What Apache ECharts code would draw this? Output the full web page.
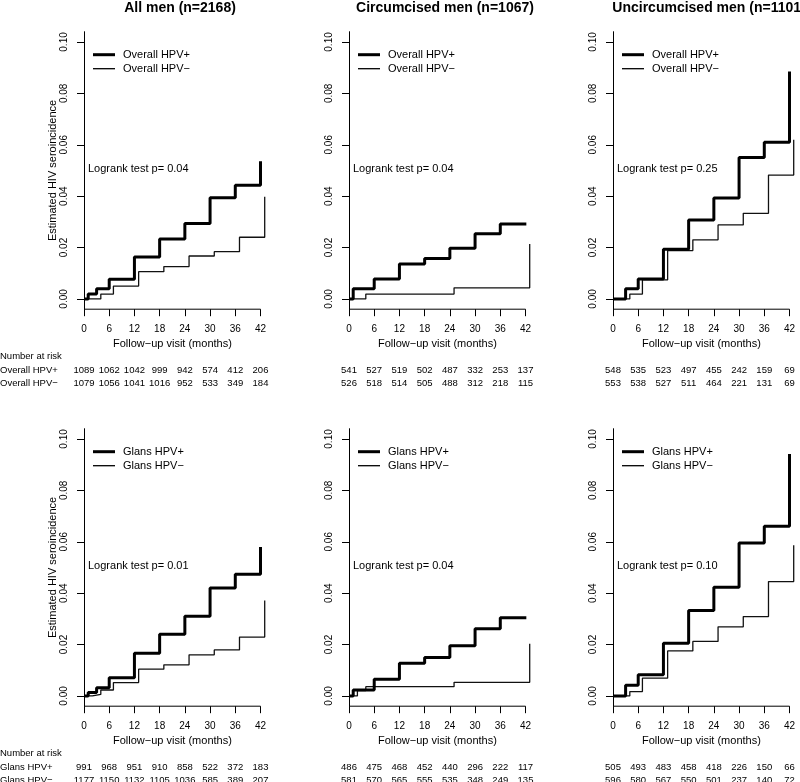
<!DOCTYPE html>
<html><head><meta charset="utf-8">
<script src="https://cdn.jsdelivr.net/npm/echarts@6/dist/echarts.min.js"></script>
<style>html,body{margin:0;padding:0;background:#fff}#c{width:800px;height:782px}</style>
</head><body><div id="c"></div>
<script>
// ---------- data ----------
const panelTitles = ["All men (n=2168)", "Circumcised men (n=1067)", "Uncircumcised men (n=1101)"];
const overallNames = ["Overall HPV+", "Overall HPV\u2212"];
const glansNames = ["Glans HPV+", "Glans HPV\u2212"];
const pValues = ["0.04", "0.04", "0.25", "0.01", "0.04", "0.10"];
const xTicks = [0, 6, 12, 18, 24, 30, 36, 42];
const yTicks = [0, 0.02, 0.04, 0.06, 0.08, 0.10];

// Panel A: all men, overall
const aPosT = [0, 1, 3, 6, 12, 18, 24, 30, 36, 42];
const aPosV = [0, 0.0019, 0.0040, 0.0077, 0.0163, 0.0233, 0.0294, 0.0394, 0.0442, 0.0536];
const aNegT = [0, 4, 7, 13, 19, 25, 31, 37, 43];
const aNegV = [0, 0.0019, 0.0050, 0.0106, 0.0126, 0.0167, 0.0184, 0.0240, 0.0398];
// Panel B: circumcised, overall
const bPosT = [0, 1, 6, 12, 18, 24, 30, 36, 42.2];
const bPosV = [0, 0.0040, 0.0078, 0.0136, 0.0157, 0.0197, 0.0254, 0.0292, 0.0292];
const bNegT = [0, 4, 25, 43];
const bNegV = [0, 0.0019, 0.0043, 0.0214];
// Panel C: uncircumcised, overall
const cPosT = [0, 3, 6, 12, 18, 24, 30, 36, 42];
const cPosV = [0, 0.0040, 0.0078, 0.0193, 0.0307, 0.0393, 0.0550, 0.0610, 0.0885];
const cNegT = [0, 4, 7, 13, 19, 25, 31, 37, 43];
const cNegV = [0, 0.0019, 0.0074, 0.0188, 0.0230, 0.0288, 0.0333, 0.0482, 0.0619];
// Panel D: all men, glans
const dPosT = [0, 1, 3, 6, 12, 18, 24, 30, 36, 42];
const dPosV = [0, 0.0013, 0.0032, 0.0071, 0.0166, 0.0240, 0.0310, 0.0420, 0.0474, 0.0580];
const dNegT = [0, 2, 4, 7, 13, 19, 25, 31, 37, 43];
const dNegV = [0, 0.0006, 0.0023, 0.0052, 0.0104, 0.0121, 0.0160, 0.0179, 0.0229, 0.0371];
// Panel E: circumcised, glans
const ePosT = [0, 1, 6, 12, 18, 24, 30, 36, 42.2];
const ePosV = [0, 0.0023, 0.0065, 0.0127, 0.0150, 0.0195, 0.0261, 0.0304, 0.0304];
const eNegT = [0, 2, 4, 25, 43];
const eNegV = [0, 0.0021, 0.0036, 0.0053, 0.0203];
// Panel F: uncircumcised, glans
const fPosT = [0, 3, 6, 12, 18, 24, 30, 36, 42];
const fPosV = [0, 0.0042, 0.0082, 0.0205, 0.0332, 0.0423, 0.0595, 0.0660, 0.0942];
const fNegT = [0, 4, 7, 13, 19, 25, 31, 37, 43];
const fNegV = [0, 0.0017, 0.0069, 0.0175, 0.0212, 0.0269, 0.0309, 0.0445, 0.0586];

// Numbers at risk
const aRiskPos = [1089, 1062, 1042, 999, 942, 574, 412, 206];
const aRiskNeg = [1079, 1056, 1041, 1016, 952, 533, 349, 184];
const bRiskPos = [541, 527, 519, 502, 487, 332, 253, 137];
const bRiskNeg = [526, 518, 514, 505, 488, 312, 218, 115];
const cRiskPos = [548, 535, 523, 497, 455, 242, 159, 69];
const cRiskNeg = [553, 538, 527, 511, 464, 221, 131, 69];
const dRiskPos = [991, 968, 951, 910, 858, 522, 372, 183];
const dRiskNeg = [1177, 1150, 1132, 1105, 1036, 585, 389, 207];
const eRiskPos = [486, 475, 468, 452, 440, 296, 222, 117];
const eRiskNeg = [581, 570, 565, 555, 535, 348, 249, 135];
const fRiskPos = [505, 493, 483, 458, 418, 226, 150, 66];
const fRiskNeg = [596, 580, 567, 550, 501, 237, 140, 72];

// ---------- layout ----------
const FONT = "'Liberation Sans', Arial, Helvetica, sans-serif";
const GL = [84, 349, 613];
const GT = [31.7, 428.7];
const X_MAX = 43.5, Y_MIN = -0.004, Y_MAX = 0.104;
const GW = 176.5 * X_MAX / 42, GH = 277.5;

const zip = (t, v) => t.map((x, i) => [x, v[i]]);
const panels = [
  {names: overallNames, pos: zip(aPosT, aPosV), neg: zip(aNegT, aNegV), rp: aRiskPos, rn: aRiskNeg},
  {names: overallNames, pos: zip(bPosT, bPosV), neg: zip(bNegT, bNegV), rp: bRiskPos, rn: bRiskNeg},
  {names: overallNames, pos: zip(cPosT, cPosV), neg: zip(cNegT, cNegV), rp: cRiskPos, rn: cRiskNeg},
  {names: glansNames, pos: zip(dPosT, dPosV), neg: zip(dNegT, dNegV), rp: dRiskPos, rn: dRiskNeg},
  {names: glansNames, pos: zip(ePosT, ePosV), neg: zip(eNegT, eNegV), rp: eRiskPos, rn: eRiskNeg},
  {names: glansNames, pos: zip(fPosT, fPosV), neg: zip(fNegT, fNegV), rp: fRiskPos, rn: fRiskNeg}
];

const grid = [], xAxis = [], yAxis = [], series = [];
panels.forEach((p, i) => {
  const col = i % 3, row = Math.floor(i / 3);
  grid.push({left: GL[col], top: GT[row], width: GW, height: GH, containLabel: false});
  xAxis.push({
    type: 'value', gridIndex: i, min: 0, max: X_MAX,
    axisLine: {show: false, onZero: false},
    axisTick: {show: true, length: 7, customValues: xTicks, lineStyle: {color: '#000'}},
    axisLabel: {customValues: xTicks, margin: 15, color: '#000', fontSize: 10, fontFamily: FONT},
    splitLine: {show: false},
    name: 'Follow\u2212up visit (months)', nameLocation: 'middle', nameGap: 29,
    nameTextStyle: {color: '#000', fontSize: 11, fontFamily: FONT, padding: [0, 6, 0, 0]}
  });
  yAxis.push({
    type: 'value', gridIndex: i, min: Y_MIN, max: Y_MAX,
    axisLine: {show: true, onZero: false, lineStyle: {color: '#000', width: 1}},
    axisTick: {show: true, length: 7, customValues: yTicks, lineStyle: {color: '#000'}},
    axisLabel: {customValues: yTicks, rotate: 90, margin: 15, color: '#000', fontSize: 10, fontFamily: FONT,
      formatter: v => v.toFixed(2)},
    splitLine: {show: false},
    name: col === 0 ? 'Estimated HIV seroincidence' : '', nameLocation: 'middle', nameGap: 26,
    nameTextStyle: {color: '#000', fontSize: 11, fontFamily: FONT}
  });
  series.push({
    type: 'line', name: p.names[0], xAxisIndex: i, yAxisIndex: i, data: p.pos, step: 'end',
    symbol: 'none', silent: true, lineStyle: {color: '#000', width: 3}, z: 3
  });
  series.push({
    type: 'line', name: p.names[1], xAxisIndex: i, yAxisIndex: i, data: p.neg, step: 'end',
    symbol: 'none', silent: true, lineStyle: {color: '#111', width: 1.3}, z: 2
  });
});

const chart = echarts.init(document.getElementById('c'), null, {renderer: 'canvas'});
chart.setOption({
  animation: false, backgroundColor: '#fff',
  textStyle: {fontFamily: FONT},
  title: panelTitles.map((t, c) => ({
    text: t, left: GL[c] + 91, top: -4, textAlign: 'center',
    textStyle: {fontSize: 14, fontWeight: 'bold', color: '#000', fontFamily: FONT}
  })),
  grid, xAxis, yAxis, series
});

// ---------- annotations (x axis baseline, legend, logrank, risk table) ----------
const graphic = [];
const txt = (x, y, s, size, align) => graphic.push({
  type: 'text', x, y, silent: true,
  style: {text: s, fill: '#000', font: size + 'px ' + FONT, textAlign: align || 'left', textVerticalAlign: 'middle'}
});
panels.forEach((p, i) => {
  const col = i % 3, row = Math.floor(i / 3);
  const gl = GL[col], gt = GT[row];
  // x-axis baseline spanning the tick range (R style)
  const a0 = chart.convertToPixel({gridIndex: i}, [xTicks[0], Y_MIN]);
  const a1 = chart.convertToPixel({gridIndex: i}, [xTicks[xTicks.length - 1], Y_MIN]);
  graphic.push({type: 'line', silent: true, shape: {x1: a0[0], y1: a0[1], x2: a1[0], y2: a1[1]},
    style: {stroke: '#000', lineWidth: 1}});
  // legend
  [[3, 0], [1.3, 1]].forEach(([w, k]) => {
    const y = gt + 23 + 14 * k;
    graphic.push({type: 'line', silent: true, shape: {x1: gl + 9, y1: y, x2: gl + 31, y2: y},
      style: {stroke: '#000', lineWidth: w}});
    txt(gl + 39, y, p.names[k], 11);
  });
  // logrank
  txt(gl + 4, gt + 137, 'Logrank test p= ' + pValues[i], 11);
  // risk table
  const axisY = gt + GH;
  if (col === 0) {
    txt(0, axisY + 47, 'Number at risk', 9.5);
    txt(0, axisY + 61, p.names[0], 9.5);
    txt(0, axisY + 74, p.names[1], 9.5);
  }
  xTicks.forEach((t, k) => {
    const px = chart.convertToPixel({gridIndex: i}, [t, 0])[0];
    txt(px, axisY + 61, String(p.rp[k]), 9.5, 'center');
    txt(px, axisY + 74, String(p.rn[k]), 9.5, 'center');
  });
});
chart.setOption({graphic});
</script></body></html>
